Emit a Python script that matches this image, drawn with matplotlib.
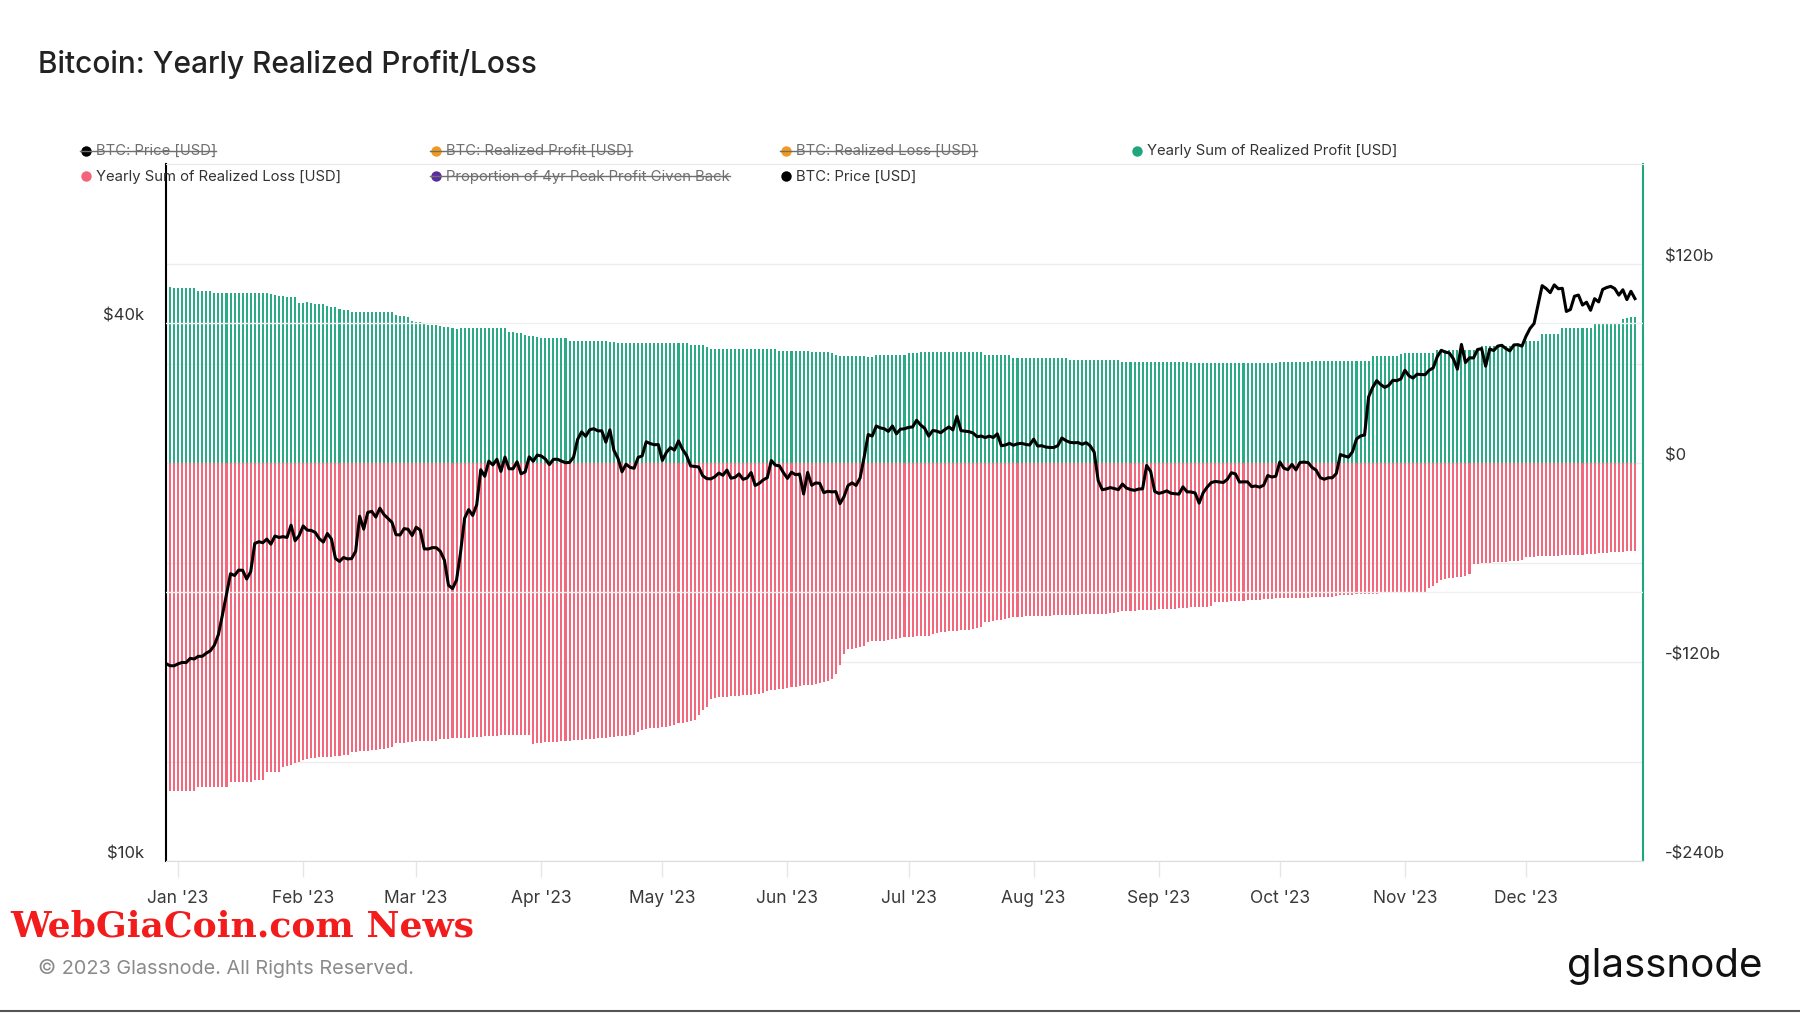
import matplotlib
matplotlib.use('Agg')
import matplotlib.pyplot as plt
import matplotlib.dates as mdates
from matplotlib.lines import Line2D
from matplotlib.ticker import FixedLocator, NullLocator
import pandas as pd

plt.rcParams['font.family'] = ['Inter', 'DejaVu Sans']

# daily data, 2022-12-29 .. 2023-12-28
dates = pd.date_range('2022-12-29', '2023-12-28', freq='D')

# BTC price [USD]
price_dec22 = [16633, 16548, 16542]
price_jan = [16625, 16688, 16680, 16863, 16836, 16951, 16955, 17091, 17196, 17446,
             17934, 18869, 19909, 20976, 20880, 21170, 21161, 20689, 21086, 22676,
             22777, 22721, 22934, 22636, 23117, 23032, 23078, 23031, 23774, 22840, 23139]
price_feb = [23724, 23471, 23449, 23331, 22955, 22761, 23264, 22939, 21819, 21651,
             21870, 21788, 21808, 22221, 24328, 23527, 24569, 24631, 24272, 24838,
             24437, 24189, 23947, 23198, 23175, 23561, 23522, 23147]
price_mar = [23646, 23475, 22362, 22354, 22435, 22429, 22219, 21718, 20364, 20187,
             20633, 22163, 24197, 24746, 24375, 25052, 27423, 26965, 28038, 27767,
             28175, 27307, 28333, 27493, 27494, 27994, 27139, 27268, 28348, 28033, 28478]
price_apr = [28411, 28199, 27790, 28168, 28177, 28044, 27925, 27947, 28333, 29653,
             30235, 29892, 30400, 30485, 30318, 30315, 29445, 30398, 28822, 28245,
             27276, 27817, 27592, 27525, 28307, 28422, 29473, 29340, 29248, 29268]
price_may = [28091, 28680, 29031, 28848, 29535, 28905, 28454, 27694, 27659, 27621,
             27000, 26804, 26784, 26931, 27192, 27036, 27398, 26833, 26890, 27129,
             26754, 26851, 27225, 26334, 26477, 26719, 26868, 28085, 27745, 27702, 27219]
price_jun = [26819, 27249, 27075, 27119, 25760, 27238, 26346, 26508, 26480, 25851,
             25940, 25902, 25918, 25124, 25576, 26327, 26510, 26336, 26851, 28327,
             30027, 29912, 30695, 30548, 30480, 30271, 30697, 30087, 30445, 30477]
price_jul = [30590, 30620, 31156, 30777, 30514, 29909, 30342, 30292, 30171, 30414,
             30620, 30391, 31477, 30334, 30295, 30249, 30145, 29856, 29914, 29793,
             29909, 29800, 30083, 29176, 29228, 29354, 29210, 29319, 29357, 29275, 29230]
price_aug = [29676, 29152, 29179, 29075, 29043, 29042, 29183, 29766, 29562, 29430,
             29398, 29416, 29283, 29408, 29170, 28701, 26664, 26050, 26100, 26190,
             26125, 26050, 26432, 26160, 26059, 26005, 26090, 26107, 27728, 27298, 25932]
price_sep = [25800, 25869, 25969, 25813, 25779, 25753, 26241, 25906, 25895, 25833,
             25162, 25841, 26222, 26528, 26608, 26568, 26535, 26754, 27211, 27132,
             26568, 26580, 26580, 26256, 26298, 26217, 26352, 27021, 26911, 26968]
price_oct = [27983, 27531, 27429, 27799, 27415, 27946, 27968, 27935, 27584, 27391,
             26873, 26757, 26862, 26861, 27159, 28519, 28415, 28328, 28719, 29682,
             29919, 29993, 33087, 33901, 34502, 34156, 33910, 34089, 34538, 34502, 34667]
price_nov = [35437, 34938, 34732, 35082, 35049, 35037, 35443, 35655, 36693, 37313,
             37138, 37054, 36502, 35537, 37880, 36154, 36596, 36585, 37386, 37476,
             35813, 37432, 37289, 37720, 37796, 37479, 37254, 37831, 37859, 37712]
price_dec = [38688, 39476, 39978, 41980, 44080, 43746, 43292, 44166, 43725, 43779,
             41243, 41450, 42890, 43023, 41929, 42240, 41365, 42623, 42271, 43652,
             43870, 43998, 43740, 43017, 43614, 42520, 43442, 42627]

# Yearly sum of realized profit [USD bn]
profit_dec22 = [106.5, 106.5, 106]
profit_jan = [105.5, 105.5, 105.5, 105.5, 105.5, 104, 104, 104, 104, 103,
              103, 103, 103, 103, 103, 103, 103, 103, 103, 103,
              103, 103, 103, 102, 101.5, 101, 101, 100.5, 100.5, 100.5, 97]
profit_feb = [97, 97.5, 96.5, 96, 96, 96, 95, 94.3, 94, 93,
              92.6, 92.5, 91.5, 91.5, 91.5, 91.3, 91.3, 91.3, 91, 91,
              91, 91, 91, 89.5, 89, 89, 88, 86]
profit_mar = [85.5, 85.5, 84, 83.5, 83.5, 83.5, 83, 82.5, 82, 81.5,
              81, 81.5, 81.7, 81.7, 81.7, 81.7, 81.7, 81.7, 81.7, 81.7,
              81.7, 81.7, 81.7, 79, 79, 78.8, 78.5, 77.5, 77, 76.5, 76]
profit_apr = [75.5, 75.5, 75.5, 75.5, 75.5, 75.5, 75.5, 74, 74, 74,
              74, 74, 74, 74, 74, 74, 73.5, 73, 73, 72.5,
              72.5, 72.5, 72.5, 72.5, 72.5, 72.5, 72.5, 72.5, 72.5, 72.5]
profit_may = [72.5, 72.5, 72.8, 72.8, 72.8, 72.8, 72.8, 71.5, 71.5, 71.5,
              71.5, 70, 69, 69, 69, 69, 69, 69, 69, 69,
              69, 69, 69, 69, 69, 69, 69, 69, 69, 67.5, 67.5]
profit_jun = [67.8, 67.7, 67.6, 67.5, 67.5, 67.5, 67.4, 67.4, 67.3, 67.3,
              67.2, 66.5, 65.5, 65, 64.5, 64.5, 64.5, 64.5, 64.5, 64.5,
              64.2, 64.2, 65.5, 65.5, 65.5, 65.5, 65.5, 65.5, 65.5, 65.5]
profit_jul = [66.3, 66.3, 66.3, 67.3, 67.3, 67.3, 67.3, 67.3, 67.3, 67.3,
              67.3, 67.3, 67.3, 67.3, 67.3, 67.3, 67.3, 67.3, 67.3, 65.2,
              65.2, 65.2, 65.2, 65.2, 65.2, 65.2, 63.8, 63.8, 63.8, 63.8, 63.8]
profit_aug = [63.8, 63.8, 63.8, 63.8, 63.8, 63.8, 63.8, 63.8, 63.8, 62.5,
              62.5, 62.5, 62.5, 62.5, 62.5, 62.5, 62.5, 62.5, 62.5, 62.5,
              62.5, 62.5, 61.4, 61.4, 61.4, 61.4, 61.4, 61.4, 61.4, 61.4, 61.4]
profit_sep = [61.4, 61.4, 61.4, 61.4, 61.4, 61.4, 61.4, 61.4, 60.7, 60.7,
              60.7, 60.7, 60.7, 60.7, 60.7, 60.7, 60.7, 60.7, 60.7, 60.7,
              60.7, 60.7, 60.7, 60.7, 60.7, 60.7, 60.7, 60.7, 60.7, 60.7]
profit_oct = [60.8, 60.8, 60.8, 60.8, 60.8, 60.8, 60.8, 60.8, 61.6, 61.6,
              61.6, 61.6, 61.6, 61.6, 61.6, 61.6, 61.6, 61.6, 61.6, 61.6,
              61.6, 61.6, 61.6, 64.8, 64.8, 64.8, 64.8, 64.8, 64.8, 64.8, 66]
profit_nov = [66.5, 66.5, 66.5, 66.5, 66.5, 66.5, 66.5, 66.5, 68.5, 68.5,
              68.5, 68.5, 68.5, 68.5, 68.5, 68.5, 68.5, 68.5, 68.5, 70.8,
              70.8, 70.8, 70.8, 70.8, 70.8, 70.8, 70.8, 70.8, 70.8, 70.8]
profit_dec = [73.9, 73.9, 73.9, 73.9, 78, 78, 78, 78, 78, 81.7,
              81.7, 81.7, 81.7, 81.7, 81.7, 81.7, 81.7, 84.3, 84.3, 84.3,
              84.3, 84.3, 84.3, 84.3, 87, 87.5, 88.5, 88.5]

# Yearly sum of realized loss [USD bn]
loss_dec22 = [-197.6, -197.6, -197.6]
loss_jan = [-197.5, -197.5, -197.5, -197.5, -197.5, -195.5, -195.5, -195.5, -195.5, -195.5,
            -195.5, -195.5, -195.5, -192.5, -192.5, -192.5, -192.5, -192.5, -192.5, -190.8,
            -190.8, -190.8, -186.5, -186.5, -186.5, -186.5, -183, -182.5, -182, -181, -180]
loss_feb = [-179, -178.5, -178, -178, -177.5, -177.5, -177, -177, -176.5, -176.5,
            -176, -176, -174, -174, -173.7, -173.5, -173.5, -173, -173, -172.5,
            -172.5, -172, -171, -169, -168.6, -168.5, -168.3, -168]
loss_mar = [-167.5, -167.5, -167.5, -167.5, -167.5, -167.5, -166.5, -166.5, -166.3, -166,
            -166, -165.8, -165.6, -165.5, -165.3, -165, -165, -164.8, -164.6, -164.5,
            -164.3, -164.2, -164, -164, -164, -164, -164, -164, -164, -169.4, -169]
loss_apr = [-168.5, -168.3, -168.3, -168, -168, -167.8, -167.5, -167.3, -167, -167,
            -166.8, -166.6, -166.5, -166.3, -166, -165.8, -165.5, -165.3, -165, -164.8,
            -164.5, -164.3, -164, -164, -162, -161, -160.5, -160, -160, -159.5]
loss_may = [-159, -159, -158.5, -158, -157, -156.5, -156, -155.5, -155, -152,
            -149, -147, -142, -141.5, -141, -141, -140.8, -140.5, -140.5, -140.3,
            -140, -140, -139.8, -139.5, -139, -138.5, -137.5, -137, -136.5, -136, -136]
loss_jun = [-135.5, -135, -135, -134.5, -134, -134, -133.5, -133, -132.5, -132,
            -131.5, -130, -127, -122, -115, -112, -112, -111.5, -111, -110.5,
            -108, -107.5, -107.5, -107, -107, -106.5, -106, -106, -105.5, -105]
loss_jul = [-105, -104.8, -104.5, -104.3, -104, -104, -103, -102.5, -102, -101.8,
            -101.5, -101.3, -101, -100.8, -100.5, -100.3, -100, -99.5, -99, -96,
            -95.5, -95, -94.5, -94.3, -94, -93.5, -93, -92.5, -92.5, -92.3, -92.3]
loss_aug = [-92.2, -92.2, -92, -92, -92, -91.8, -91.8, -91.7, -91.6, -91.5,
            -91.4, -91.3, -91.2, -91.1, -91, -91, -90.9, -90.8, -90.7, -90.6,
            -90.5, -89.5, -89.3, -89.2, -89, -89, -88.8, -88.7, -88.5, -88.4, -88.3]
loss_sep = [-88.2, -88, -88, -87.8, -87.7, -87.5, -87.4, -87.2, -87, -87,
            -86.8, -86.6, -86.5, -86.3, -84, -83.8, -83.6, -83.5, -83.3, -83.2,
            -83, -82.8, -82.7, -82.5, -82.3, -82.2, -82, -81.8, -81.6, -81.5]
loss_oct = [-81.5, -81.4, -81.3, -81.3, -81.2, -81.1, -81, -81, -80.9, -80.8,
            -80.7, -80.6, -80.5, -80.4, -80.3, -79.5, -79.4, -79.3, -79.2, -79.1,
            -79, -78.9, -78.8, -78.7, -78.6, -78.5, -78.4, -78.3, -78.2, -78.1, -78]
loss_nov = [-78, -77.9, -77.8, -77.7, -77.6, -77.5, -75, -74, -72, -70.5,
            -70, -69.5, -69, -68.8, -68.5, -68, -67, -61, -60.5, -60.3,
            -60.2, -60, -59.8, -59.6, -59.5, -59.3, -59.2, -59, -58.8, -58.6]
loss_dec = [-56.5, -56.4, -56.3, -56.2, -56.1, -56, -55.9, -55.8, -55.7, -55.6,
            -55.5, -55.4, -55.3, -55.2, -55.1, -55, -54.8, -54.6, -54.4, -54.2,
            -54, -53.8, -53.6, -53.5, -53.3, -53.1, -53, -52.8]

price = (price_dec22 + price_jan + price_feb + price_mar + price_apr + price_may + price_jun
         + price_jul + price_aug + price_sep + price_oct + price_nov + price_dec)
profit = (profit_dec22 + profit_jan + profit_feb + profit_mar + profit_apr + profit_may + profit_jun
          + profit_jul + profit_aug + profit_sep + profit_oct + profit_nov + profit_dec)
loss = (loss_dec22 + loss_jan + loss_feb + loss_mar + loss_apr + loss_may + loss_jun
        + loss_jul + loss_aug + loss_sep + loss_oct + loss_nov + loss_dec)

right_ticks = [120, 60, 0, -60, -120, -180, -240]
right_labels = ['$120b', '', '$0', '', '-$120b', '', '-$240b']
left_ticks = [10000, 20000, 40000]
left_labels = ['$10k', '', '$40k']

legend_items = [
    ('BTC: Price [USD]', '#000000', True),
    ('BTC: Realized Profit [USD]', '#f39a1e', True),
    ('BTC: Realized Loss [USD]', '#f39a1e', True),
    ('Yearly Sum of Realized Profit [USD]', '#1fa67f', False),
    ('Yearly Sum of Realized Loss [USD]', '#f4637a', False),
    ('Proportion of 4yr Peak Profit Given Back', '#5a2ca0', True),
    ('BTC: Price [USD]', '#000000', False),
]

GREEN = '#2aaa85'
RED = '#f4687e'
GRID = '#ececec'

fig = plt.figure(figsize=(18, 10.13), dpi=100)
ax = fig.add_axes([0.0922, 0.150, 0.8206, 0.688])
ax2 = ax.twinx()

ax.bar(dates, profit, width=0.5, color=GREEN, linewidth=0, antialiased=False)
ax.bar(dates, loss, width=0.5, color=RED, linewidth=0, antialiased=False)
ax.set_ylim(-240, 180.5)
ax.set_xlim(pd.Timestamp('2022-12-29'), pd.Timestamp('2023-12-30'))
ax.yaxis.tick_right()
ax.yaxis.set_label_position('right')
ax.yaxis.set_major_locator(FixedLocator(right_ticks))
ax.set_yticklabels(right_labels)
ax.tick_params(axis='y', length=0, pad=16, labelsize=12, labelcolor='#333333')
for lab in ax.get_yticklabels():
    lab.set_verticalalignment('bottom')
ax.grid(axis='y', color=GRID, linewidth=1)
ax.set_axisbelow(True)

ax.xaxis.set_major_locator(mdates.MonthLocator())
ax.xaxis.set_major_formatter(mdates.DateFormatter("%b '%y"))
ax.tick_params(axis='x', length=11.5, width=1, color='#e6e6e6', pad=9,
               labelsize=12.5, labelcolor='#3a3a3a')

ax.spines['left'].set_color('black')
ax.spines['left'].set_linewidth(1.5)
ax.spines['right'].set_color('#1fa67f')
ax.spines['right'].set_linewidth(1.5)
ax.spines['top'].set_color('#e8e8e8')
ax.spines['bottom'].set_color('#dddddd')

ax2.plot(dates, price, color='black', linewidth=2.2, solid_joinstyle='round')
ax2.set_yscale('log')
ax2.set_ylim(10000, 60300)
ax2.yaxis.tick_left()
ax2.yaxis.set_label_position('left')
ax2.yaxis.set_major_locator(FixedLocator(left_ticks))
ax2.yaxis.set_minor_locator(NullLocator())
ax2.set_yticklabels(left_labels)
ax2.tick_params(axis='y', which='both', length=0, pad=15.5, labelsize=12, labelcolor='#333333')
for lab in ax2.get_yticklabels():
    lab.set_verticalalignment('bottom')
ax2.grid(axis='y', color='#f0f0f0', linewidth=1)
for s in ax2.spines.values():
    s.set_visible(False)

fig.text(0.021, 1 - 64 / 1013, 'Bitcoin: Yearly Realized Profit/Loss', fontsize=21.5,
         fontweight='medium', color='#222222', va='center')

# legend, drawn by hand (hidden series are struck through)
col_x = [86 / 1800, 436 / 1800, 786 / 1800, 1137 / 1800]
row_y = [1 - 151 / 1013, 1 - 176.5 / 1013]
texts = []
for i, (label, color, struck) in enumerate(legend_items):
    x = col_x[i % 4]
    y = row_y[i // 4]
    fig.add_artist(Line2D([x], [y], marker='o', markersize=7.5, color=color,
                          markeredgewidth=0, linestyle='none'))
    tcol = '#6f6f6f' if struck else '#333333'
    t = fig.text(x + 10 / 1800, y, label, fontsize=10.7, color=tcol, va='center')
    texts.append((t, x, y, struck))

fig.canvas.draw()
renderer = fig.canvas.get_renderer()
for t, x, y, struck in texts:
    if struck:
        bb = t.get_window_extent(renderer).transformed(fig.transFigure.inverted())
        fig.add_artist(Line2D([x - 6 / 1800, bb.x1], [y, y], color='#6f6f6f', linewidth=1))

fig.text(0.0055, 1 - 926 / 1013, 'WebGiaCoin.com News', fontsize=26, fontweight='bold',
         family='DejaVu Serif', color='#f21c1c', va='center')
fig.text(0.021, 1 - 968 / 1013, '\u00a9 2023 Glassnode. All Rights Reserved.', fontsize=14.3,
         color='#8a8a8a', va='center')
fig.text(0.979, 1 - 966 / 1013, 'glassnode', fontsize=29, color='#111111',
         va='center', ha='right')
fig.add_artist(Line2D([0, 1], [0.0015, 0.0015], color='#555555', linewidth=1.5))

fig.savefig('out.png', dpi=100, facecolor='white')
